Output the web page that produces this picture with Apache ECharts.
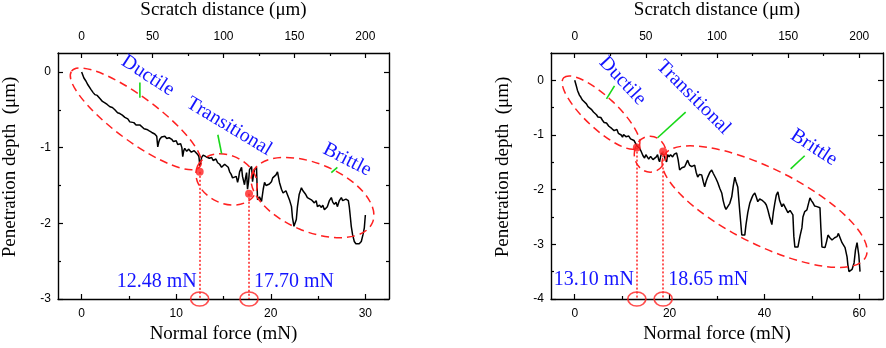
<!DOCTYPE html>
<html>
<head>
<meta charset="utf-8">
<script src="https://cdn.jsdelivr.net/npm/echarts@6/dist/echarts.min.js"></script>
<style>
  html, body { margin: 0; padding: 0; background: #fff; }
  #main { width: 886px; height: 348px; }
</style>
</head>
<body>
<div id="main"></div>
<script>
  // left panel: 30 mN scratch
  var forceA = [0, 0.24, 0.45, 0.66, 0.85, 0.98, 1.2, 1.4, 1.65, 1.93, 2.2, 2.46, 2.7, 2.99, 3.25, 3.51, 3.8, 4.04, 4.3, 4.57,
    4.75, 4.88, 5.09, 5.3, 5.52, 5.75, 5.94, 6.15, 6.36, 6.6, 6.89, 7.15, 7.42, 7.6, 7.73, 7.94, 8.05, 8.15, 8.26, 8.45,
    8.58, 8.8, 9.0, 9.25, 9.53, 9.7, 9.84, 10.0, 10.16, 10.35, 10.47, 10.6, 10.69, 10.8, 10.9, 11.11, 11.3, 11.42, 11.6, 11.74,
    11.9, 12.06, 12.27, 12.4, 12.5, 12.69, 12.85, 13.0, 13.15, 13.33, 13.5, 13.75, 13.9, 14.07, 14.2, 14.38, 14.6, 14.8, 14.95, 15.12,
    15.33, 15.5, 15.65, 15.8, 15.96, 16.17, 16.35, 16.49, 16.6, 16.7, 16.91, 17.01, 17.22, 17.33, 17.44, 17.54, 17.65, 17.75, 17.97, 18.07,
    18.18, 18.28, 18.49, 18.6, 18.8, 19.02, 19.2, 19.34, 19.5, 19.65, 19.85, 20.07, 20.2, 20.39, 20.55, 20.71, 20.8, 20.92, 21.13, 21.3,
    21.44, 21.6, 21.76, 22.0, 22.19, 22.29, 22.45, 22.61, 22.7, 22.82, 23.0, 23.24, 23.4, 23.56, 23.7, 23.87, 24.05, 24.29, 24.45, 24.61,
    24.8, 24.93, 25.15, 25.35, 25.5, 25.67, 25.85, 25.98, 26.2, 26.4, 26.55, 26.72, 26.9, 27.04, 27.25, 27.46, 27.6, 27.78, 27.95, 28.09,
    28.2, 28.3, 28.4, 28.51, 28.65, 28.83, 29.0, 29.15, 29.35, 29.57, 29.75, 29.89, 30.0];
  var depthA = [0, -0.08, -0.12, -0.17, -0.19, -0.23, -0.27, -0.30, -0.31, -0.35, -0.39, -0.41, -0.43, -0.46, -0.47, -0.50, -0.54, -0.55, -0.57, -0.60,
    -0.59, -0.62, -0.66, -0.64, -0.67, -0.70, -0.71, -0.70, -0.72, -0.75, -0.76, -0.78, -0.80, -0.79, -0.82, -0.85, -0.99, -0.93, -0.89, -0.86,
    -0.87, -0.85, -0.88, -0.87, -0.89, -0.92, -0.93, -0.91, -0.96, -0.94, -0.95, -1.00, -1.12, -1.04, -1.01, -1.05, -1.02, -1.03, -1.06, -1.07,
    -1.04, -1.05, -1.09, -1.12, -1.24, -1.13, -1.10, -1.09, -1.12, -1.10, -1.14, -1.13, -1.17, -1.16, -1.15, -1.20, -1.22, -1.26, -1.24, -1.22,
    -1.20, -1.26, -1.32, -1.35, -1.40, -1.42, -1.38, -1.46, -1.40, -1.32, -1.26, -1.38, -1.49, -1.40, -1.33, -1.55, -1.45, -1.29, -1.25, -1.45,
    -1.35, -1.29, -1.26, -1.69, -1.65, -1.71, -1.55, -1.46, -1.50, -1.52, -1.48, -1.45, -1.40, -1.42, -1.36, -1.32, -1.38, -1.46, -1.55, -1.60,
    -1.62, -1.57, -1.59, -1.70, -1.78, -1.92, -2.04, -2.06, -1.95, -1.78, -1.62, -1.53, -1.57, -1.55, -1.62, -1.66, -1.64, -1.69, -1.71, -1.73,
    -1.70, -1.78, -1.76, -1.79, -1.76, -1.82, -1.80, -1.78, -1.70, -1.66, -1.72, -1.75, -1.72, -1.78, -1.70, -1.66, -1.70, -1.71, -1.68, -1.66,
    -1.70, -1.78, -1.90, -2.04, -2.15, -2.24, -2.27, -2.26, -2.27, -2.24, -2.15, -2.06, -1.89];

  // right panel: 60 mN scratch
  var forceB = [0, 0.3, 0.57, 0.8, 0.99, 1.3, 1.63, 2.0, 2.47, 2.8, 3.11, 3.5, 3.95, 4.3, 4.58, 4.9, 5.22, 5.5, 5.85, 6.2,
    6.49, 6.7, 6.91, 7.2, 7.54, 7.8, 7.97, 8.3, 8.6, 8.9, 9.2, 9.44, 9.8, 10.08, 10.3, 10.5, 10.8, 11.13, 11.4, 11.77,
    12.0, 12.19, 12.5, 12.82, 13.1, 13.4, 13.67, 13.9, 14.09, 14.4, 14.73, 15.0, 15.36, 15.6, 15.78, 16.0, 16.21, 16.5, 16.84, 17.2,
    17.47, 17.7, 17.9, 18.1, 18.32, 18.65, 18.9, 19.1, 19.37, 19.59, 19.9, 20.2, 20.64, 21.0, 21.49, 21.8, 22.12, 22.6, 23.18, 23.5,
    23.81, 24.2, 24.66, 25.0, 25.29, 25.6, 25.93, 26.3, 26.77, 27.1, 27.4, 27.7, 28.04, 28.5, 28.88, 29.2, 29.52, 29.8, 30.15, 30.6,
    31.0, 31.3, 31.63, 31.9, 32.27, 32.7, 33.11, 33.4, 33.75, 34.0, 34.38, 34.8, 35.23, 35.5, 35.86, 36.1, 36.49, 36.9, 37.34, 37.6,
    37.97, 38.3, 38.6, 39.0, 39.45, 39.8, 40.09, 40.4, 40.72, 41.1, 41.57, 41.9, 42.2, 42.5, 42.84, 43.2, 43.68, 44.0, 44.32, 44.6,
    44.95, 45.4, 45.8, 46.0, 46.2, 46.42, 47.06, 47.5, 47.9, 48.12, 48.5, 48.96, 49.3, 49.6, 49.9, 50.23, 50.6, 51.08, 51.4, 51.71,
    51.9, 52.13, 52.77, 53.1, 53.4, 53.8, 54.25, 54.8, 55.3, 55.6, 55.94, 56.36, 57.0, 57.42, 57.6, 57.84, 58.2, 58.47, 58.9, 59.2,
    59.53, 59.74, 59.9, 60.16];
  var depthB = [0, -0.09, -0.18, -0.23, -0.27, -0.31, -0.36, -0.39, -0.43, -0.48, -0.51, -0.53, -0.58, -0.61, -0.63, -0.67, -0.69, -0.68, -0.73, -0.77,
    -0.80, -0.78, -0.81, -0.84, -0.83, -0.88, -0.87, -0.92, -0.93, -0.90, -0.97, -0.96, -1.00, -1.04, -0.99, -0.98, -1.03, -1.05, -1.02, -1.07,
    -1.06, -1.09, -1.10, -1.13, -1.20, -1.22, -1.24, -1.28, -1.31, -1.38, -1.42, -1.36, -1.36, -1.44, -1.46, -1.39, -1.38, -1.45, -1.47, -1.40,
    -1.36, -1.45, -1.49, -1.40, -1.33, -1.30, -1.38, -1.45, -1.49, -1.36, -1.40, -1.36, -1.40, -1.35, -1.33, -1.45, -1.64, -1.60, -1.58, -1.52,
    -1.46, -1.55, -1.58, -1.55, -1.55, -1.68, -1.77, -1.72, -1.73, -1.85, -1.95, -1.85, -1.77, -1.68, -1.64, -1.70, -1.73, -1.80, -1.87, -1.98,
    -2.06, -2.20, -2.31, -2.36, -2.37, -2.25, -2.13, -1.95, -1.77, -1.85, -1.95, -2.40, -2.83, -2.83, -2.83, -2.65, -2.42, -2.25, -2.15, -2.10,
    -2.06, -2.14, -2.22, -2.17, -2.19, -2.22, -2.24, -2.28, -2.37, -2.50, -2.64, -2.40, -2.24, -2.10, -2.04, -2.20, -2.31, -2.26, -2.28, -2.36,
    -2.42, -2.38, -2.41, -2.46, -2.85, -3.05, -3.05, -2.85, -2.70, -2.50, -2.40, -2.37, -2.25, -2.15, -2.20, -2.24, -2.30, -2.31, -2.30, -2.33,
    -2.70, -3.05, -3.06, -2.95, -2.83, -2.88, -2.92, -2.88, -2.86, -2.80, -2.83, -2.97, -3.06, -3.23, -3.38, -3.50, -3.52, -3.46, -3.34, -3.10,
    -2.97, -2.95, -3.20, -3.50];

  // critical loads and where they sit on the curve
  var criticalA = [12.48, 17.70];
  var criticalDepthA = [-1.32, -1.61];
  var criticalB = [13.10, 18.65];
  var criticalDepthB = [-1.23, -1.30];

  // tick labels
  var forceTicksA = [0, 10, 20, 30];
  var forceMinorA = [5, 15, 25];
  var forceTicksB = [0, 20, 40, 60];
  var forceMinorB = [10, 30, 50];
  var distTicks = [0, 50, 100, 150, 200];
  var distMinor = [25, 75, 125, 175];
  var depthTicksA = [0, -1, -2, -3];
  var depthMinorA = [-0.5, -1.5, -2.5];
  var depthTicksB = [0, -1, -2, -3, -4];
  var depthMinorB = [-0.5, -1.5, -2.5, -3.5];

  // annotations (centres in data units)
  var zonesA = [
    { c: [5.73, -0.62], rx: 80, ry: 22, a: 36.6 },
    { c: [15.33, -1.42], rx: 32, ry: 24, a: 25 },
    { c: [24.41, -1.66], rx: 65, ry: 34, a: 22.6 }
  ];
  var zonesB = [
    { c: [5.54, -0.59], rx: 51, ry: 16, a: 43 },
    { c: [15.93, -1.35], rx: 16, ry: 18, a: 0 },
    { c: [40.03, -2.31], rx: 113, ry: 38, a: 26.5 }
  ];
  var tagsA = [
    { t: 'Ductile', c: [7.0, -0.05], a: 33 },
    { t: 'Transitional', c: [15.59, -0.72], a: 31 },
    { t: 'Brittle', c: [28.08, -1.16], a: 27 }
  ];
  var tagsB = [
    { t: 'Ductile', c: [10.08, -0.01], a: 47 },
    { t: 'Transitional', c: [25.04, -0.31], a: 45 },
    { t: 'Brittle', c: [50.43, -1.23], a: 33 }
  ];
  var leadersA = [[[6.16, -0.14], [6.16, -0.34]], [[14.40, -0.83], [14.80, -1.08]], [[27.04, -1.26], [26.40, -1.33]]];
  var leadersB = [[[8.39, -0.10], [6.70, -0.34]], [[23.39, -0.58], [17.47, -1.05]], [[48.49, -1.38], [45.53, -1.62]]];

  var serif = '"Liberation Serif", "Times New Roman", serif';
  var sans = '"Liberation Sans", Arial, sans-serif';
  var RED = '#ff2020';
  var BLUE = '#1414ff';
  var GREEN = '#18d818';

  function axis(grid, pos, min, max, ticks, len, label, margin, line) {
    return {
      type: 'value', gridIndex: grid, position: pos, min: min, max: max,
      splitLine: { show: false },
      axisLine: { show: line, onZero: false, lineStyle: { color: '#000', width: 1.4 } },
      axisTick: { show: true, inside: true, length: len, customValues: ticks, lineStyle: { color: '#000', width: 1.2 } },
      axisLabel: { show: label, customValues: ticks, margin: margin, color: '#000', fontSize: 12, fontFamily: sans }
    };
  }
  function named(ax, name, gap, pad) {
    ax.name = name;
    ax.nameLocation = 'middle';
    ax.nameGap = gap;
    ax.nameTextStyle = { fontFamily: serif, fontSize: 19, color: '#000', padding: pad || 0 };
    return ax;
  }

  var xAxes = [];
  var yAxes = [];
  [[-2.5, 32.5, forceTicksA, forceMinorA], [-5, 65, forceTicksB, forceMinorB]].forEach(function (r, g) {
    xAxes.push(named(axis(g, 'bottom', r[0], r[1], r[2], 5, true, 9, true), 'Normal force (mN)', 26));
    xAxes.push(axis(g, 'bottom', r[0], r[1], r[3], 3, false, 9, false));
    xAxes.push(named(axis(g, 'top', -50 / 3, 650 / 3, distTicks, 5, true, 10, true), 'Scratch distance (\u03bcm)', 33));
    xAxes.push(axis(g, 'top', -50 / 3, 650 / 3, distMinor, 3, false, 10, false));
  });
  [[-3, 0.25, depthTicksA, depthMinorA], [-4, 0.5, depthTicksB, depthMinorB]].forEach(function (r, g) {
    yAxes.push(named(axis(g, 'left', r[0], r[1], r[2], 5, true, 7, true), 'Penetration depth  (\u03bcm)', 38, [0, 0, 0, 18]));
    yAxes.push(axis(g, 'left', r[0], r[1], r[3], 3, false, 7, false));
    yAxes.push(axis(g, 'right', r[0], r[1], r[2], 5, false, 7, true));
    yAxes.push(axis(g, 'right', r[0], r[1], r[3], 3, false, 7, false));
  });

  function pairs(xs, ys) { return xs.map(function (x, i) { return [x, ys[i]]; }); }
  function curve(ai, xs, ys) {
    return {
      type: 'line', xAxisIndex: ai, yAxisIndex: ai, data: pairs(xs, ys), showSymbol: false, symbol: 'none',
      lineStyle: { color: '#000', width: 1.5 }, z: 3, silent: true
    };
  }
  function critical(ai, xs, ys, bottom) {
    return {
      type: 'scatter', xAxisIndex: ai, yAxisIndex: ai, data: pairs(xs, ys), symbolSize: 8, clip: false,
      itemStyle: { color: RED }, z: 5, silent: true,
      markLine: {
        silent: true, symbol: ['none', 'none'], label: { show: false },
        lineStyle: { color: RED, type: [2, 2], width: 1.5 },
        data: xs.map(function (x, i) { return [{ coord: [x, ys[i]] }, { coord: [x, bottom] }]; })
      }
    };
  }
  function rings(ai, xs, bottom) {
    return {
      type: 'scatter', xAxisIndex: ai, yAxisIndex: ai, data: xs.map(function (x) { return [x, bottom]; }),
      symbol: 'circle', symbolSize: [18, 14], clip: false, z: 6, silent: true,
      itemStyle: { color: 'rgba(0,0,0,0)', borderColor: RED, borderWidth: 1.5 }
    };
  }

  var chart = echarts.init(document.getElementById('main'));
  chart.setOption({
    animation: false,
    backgroundColor: '#fff',
    grid: [
      { left: 58, right: 497, top: 53, bottom: 49, containLabel: false, outerBoundsMode: 'none' },
      { left: 551, right: 3, top: 53, bottom: 49, containLabel: false, outerBoundsMode: 'none' }
    ],
    xAxis: xAxes,
    yAxis: yAxes,
    series: [
      curve(0, forceA, depthA),
      critical(0, criticalA, criticalDepthA, -3),
      rings(0, criticalA, -3),
      curve(4, forceB, depthB),
      critical(4, criticalB, criticalDepthB, -4),
      rings(4, criticalB, -4)
    ]
  });

  // annotations placed through the axes of each panel
  var graphics = [];
  function addPanel(si, zones, tags, leaders, crit, labelY) {
    function p(v) { return chart.convertToPixel({ seriesIndex: si }, v); }
    zones.forEach(function (z) {
      var c = p(z.c);
      graphics.push({
        type: 'ellipse', x: c[0], y: c[1], rotation: -z.a * Math.PI / 180, silent: true, z: 10,
        shape: { cx: 0, cy: 0, rx: z.rx, ry: z.ry },
        style: { fill: 'none', stroke: RED, lineWidth: 1.5, lineDash: [8, 5] }
      });
    });
    leaders.forEach(function (l) {
      var a = p(l[0]), b = p(l[1]);
      graphics.push({
        type: 'line', silent: true, z: 10,
        shape: { x1: a[0], y1: a[1], x2: b[0], y2: b[1] },
        style: { stroke: GREEN, lineWidth: 1.6 }
      });
    });
    tags.forEach(function (t) {
      var c = p(t.c);
      graphics.push({
        type: 'text', x: c[0], y: c[1], rotation: -t.a * Math.PI / 180, silent: true, z: 11,
        style: { text: t.t, fill: BLUE, fontSize: 20, fontFamily: serif, align: 'center', verticalAlign: 'middle' }
      });
    });
    var l0 = p([crit[0], labelY]), l1 = p([crit[1], labelY]);
    graphics.push({
      type: 'text', x: l0[0] - 3, y: l0[1], silent: true, z: 11,
      style: { text: crit[0].toFixed(2) + ' mN', fill: BLUE, fontSize: 20, fontFamily: serif, align: 'right', verticalAlign: 'middle' }
    });
    graphics.push({
      type: 'text', x: l1[0] + 5, y: l1[1], silent: true, z: 11,
      style: { text: crit[1].toFixed(2) + ' mN', fill: BLUE, fontSize: 20, fontFamily: serif, align: 'left', verticalAlign: 'middle' }
    });
  }
  addPanel(0, zonesA, tagsA, leadersA, criticalA, -2.77);
  addPanel(3, zonesB, tagsB, leadersB, criticalB, -3.65);
  chart.setOption({ graphic: graphics });
</script>
</body>
</html>
